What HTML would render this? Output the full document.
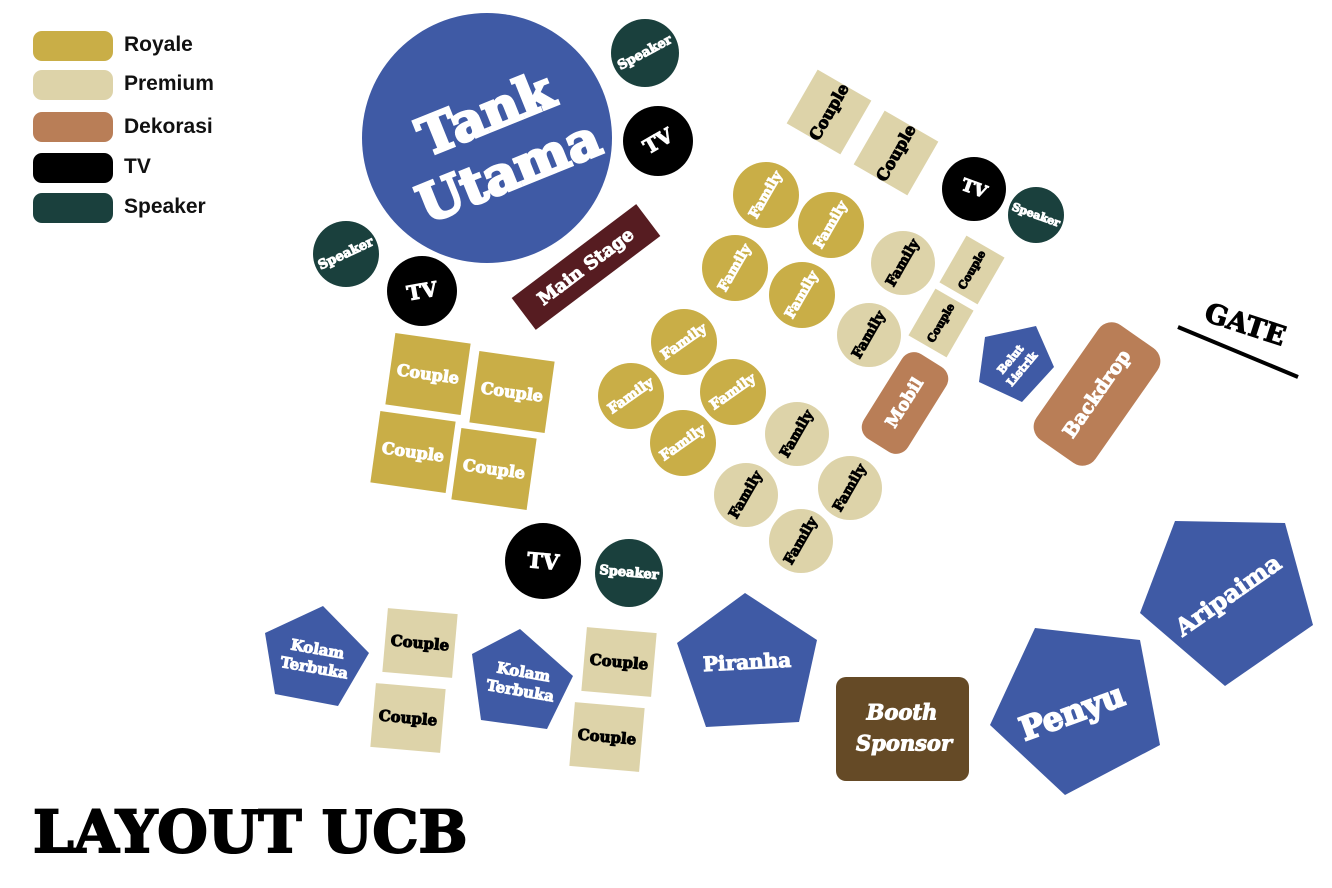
<!DOCTYPE html>
<html><head><meta charset="utf-8"><style>
html,body{margin:0;padding:0;background:#fff;width:1332px;height:888px;overflow:hidden}
svg{display:block}
.s{font-family:"DejaVu Serif","Liberation Serif",serif;font-weight:bold;text-anchor:middle;dominant-baseline:central;stroke-width:1px;paint-order:stroke}
.w{fill:#fff;stroke:#fff}.k{fill:#000;stroke:#000}
.l{font-family:"Liberation Sans",sans-serif;font-weight:bold;font-size:21px;fill:#111}
</style></head><body>
<svg width="1332" height="888" viewBox="0 0 1332 888">
<rect x="33" y="31" width="80" height="30" rx="9" fill="#c9ae47"/><text class="l" x="124" y="51">Royale</text>
<rect x="33" y="70" width="80" height="30" rx="9" fill="#ddd3a9"/><text class="l" x="124" y="90">Premium</text>
<rect x="33" y="112" width="80" height="30" rx="9" fill="#b97e57"/><text class="l" x="124" y="133">Dekorasi</text>
<rect x="33" y="153" width="80" height="30" rx="9" fill="#000"/><text class="l" x="124" y="173">TV</text>
<rect x="33" y="193" width="80" height="30" rx="9" fill="#1a403d"/><text class="l" x="124" y="213">Speaker</text>

<circle cx="487" cy="138" r="125" fill="#3f5aa5"/>
<g transform="translate(497,142) rotate(-22)"><text class="s w" y="-30" font-size="52" style="stroke-width:3px">Tank</text><text class="s w" y="32" font-size="52" style="stroke-width:3px">Utama</text></g>
<circle cx="645" cy="53" r="34" fill="#1a403d"/><text class="s w" font-size="13" transform="translate(645,53) rotate(-28)">Speaker</text>
<circle cx="658" cy="141" r="35" fill="#000"/><text class="s w" font-size="20" transform="translate(658,141) rotate(-30)">TV</text>
<circle cx="346" cy="254" r="33" fill="#1a403d"/><text class="s w" font-size="13" transform="translate(346,254) rotate(-25)">Speaker</text>
<circle cx="422" cy="291" r="35" fill="#000"/><text class="s w" font-size="20" transform="translate(422,291) rotate(-10)">TV</text>
<g transform="translate(586,267) rotate(-37)"><rect x="-78" y="-20" width="156" height="40" fill="#561c21"/><text class="s w" font-size="18">Main Stage</text></g>

<g transform="translate(829,112) rotate(30)"><rect x="-31" y="-31" width="62" height="62" fill="#ddd3a9"/><text class="s k" font-size="16" transform="rotate(-90)">Couple</text></g>
<g transform="translate(896,153) rotate(30)"><rect x="-31" y="-31" width="62" height="62" fill="#ddd3a9"/><text class="s k" font-size="16" transform="rotate(-90)">Couple</text></g>
<circle cx="974" cy="189" r="32" fill="#000"/><text class="s w" font-size="17" transform="translate(974,189) rotate(20)">TV</text>
<circle cx="1036" cy="215" r="28" fill="#1a403d"/><text class="s w" font-size="11" transform="translate(1036,215) rotate(20)">Speaker</text>

<g fill="#c9ae47">
<circle cx="766" cy="195" r="33"/><circle cx="831" cy="225" r="33"/><circle cx="735" cy="268" r="33"/><circle cx="802" cy="295" r="33"/>
<circle cx="684" cy="342" r="33"/><circle cx="631" cy="396" r="33"/><circle cx="733" cy="392" r="33"/><circle cx="683" cy="443" r="33"/>
</g>
<g class="s w" font-size="14">
<text transform="translate(766,195) rotate(-60)">Family</text><text transform="translate(831,225) rotate(-60)">Family</text>
<text transform="translate(735,268) rotate(-60)">Family</text><text transform="translate(802,295) rotate(-60)">Family</text>
<text transform="translate(684,342) rotate(-35)">Family</text><text transform="translate(631,396) rotate(-35)">Family</text>
<text transform="translate(733,392) rotate(-35)">Family</text><text transform="translate(683,443) rotate(-35)">Family</text>
</g>
<g fill="#ddd3a9">
<circle cx="903" cy="263" r="32"/><circle cx="869" cy="335" r="32"/><circle cx="797" cy="434" r="32"/>
<circle cx="746" cy="495" r="32"/><circle cx="850" cy="488" r="32"/><circle cx="801" cy="541" r="32"/>
</g>
<g class="s k" font-size="14">
<text transform="translate(903,263) rotate(-60)">Family</text><text transform="translate(869,335) rotate(-60)">Family</text>
<text transform="translate(797,434) rotate(-60)">Family</text><text transform="translate(746,495) rotate(-60)">Family</text>
<text transform="translate(850,488) rotate(-60)">Family</text><text transform="translate(801,541) rotate(-60)">Family</text>
</g>
<g transform="translate(972,270) rotate(30)"><rect x="-22" y="-27" width="44" height="54" fill="#ddd3a9"/><text class="s k" font-size="11" transform="rotate(-90)">Couple</text></g>
<g transform="translate(941,323) rotate(30)"><rect x="-22" y="-27" width="44" height="54" fill="#ddd3a9"/><text class="s k" font-size="11" transform="rotate(-90)">Couple</text></g>
<g transform="translate(905,403) rotate(32)"><rect x="-26" y="-50" width="52" height="100" rx="14" fill="#b97e57"/><text class="s w" font-size="17" transform="rotate(-90)">Mobil</text></g>
<polygon points="1036,326 1054,367 1022,402 979,382 985,337" fill="#3f5aa5"/>
<g transform="translate(1016,364) rotate(-50)" class="s w" font-size="11"><text y="-7">Belut</text><text y="8">Listrik</text></g>
<g transform="translate(1097,394) rotate(35)"><rect x="-36" y="-70" width="72" height="140" rx="16" fill="#b97e57"/><text class="s w" font-size="19" transform="rotate(-90)">Backdrop</text></g>
<text class="s k" font-size="27" transform="translate(1245,325) rotate(18)">GATE</text>
<line x1="1178" y1="327" x2="1298" y2="377" stroke="#000" stroke-width="4"/>

<g transform="translate(428,374) rotate(8)"><rect x="-38" y="-36" width="76" height="72" fill="#c9ae47"/><text class="s w" font-size="16">Couple</text></g>
<g transform="translate(512,392) rotate(8)"><rect x="-38" y="-36" width="76" height="72" fill="#c9ae47"/><text class="s w" font-size="16">Couple</text></g>
<g transform="translate(413,452) rotate(8)"><rect x="-38" y="-36" width="76" height="72" fill="#c9ae47"/><text class="s w" font-size="16">Couple</text></g>
<g transform="translate(494,469) rotate(8)"><rect x="-38" y="-36" width="76" height="72" fill="#c9ae47"/><text class="s w" font-size="16">Couple</text></g>

<circle cx="543" cy="561" r="38" fill="#000"/><text class="s w" font-size="21" transform="translate(543,561) rotate(5)">TV</text>
<circle cx="629" cy="573" r="34" fill="#1a403d"/><text class="s w" font-size="13" transform="translate(629,573) rotate(5)">Speaker</text>

<g fill="#3f5aa5">
<polygon points="323,606 369,653 338,706 275,694 265,633"/>
<polygon points="520,629 573,676 547,729 481,720 472,654"/>
<polygon points="745,593 817,640 799,722 706,727 677,643"/>
<polygon points="1035,628 1140,640 1160,745 1065,795 990,725"/>
<polygon points="1175,521 1285,523 1313,625 1225,686 1140,613"/>
</g>
<g transform="translate(316,658) rotate(10)" class="s w" font-size="15"><text y="-9">Kolam</text><text y="10">Terbuka</text></g>
<g transform="translate(522,681) rotate(10)" class="s w" font-size="15"><text y="-9">Kolam</text><text y="10">Terbuka</text></g>
<text class="s w" font-size="20" transform="translate(747,662) rotate(-3)">Piranha</text>
<text class="s w" font-size="32" transform="translate(1072,712) rotate(-20)" style="stroke-width:2px">Penyu</text>
<text class="s w" font-size="24" transform="translate(1228,595) rotate(-35)">Aripaima</text>
<g transform="translate(420,643) rotate(5)"><rect x="-35" y="-32" width="70" height="64" fill="#ddd3a9"/><text class="s k" font-size="15">Couple</text></g>
<g transform="translate(408,718) rotate(5)"><rect x="-35" y="-32" width="70" height="64" fill="#ddd3a9"/><text class="s k" font-size="15">Couple</text></g>
<g transform="translate(619,662) rotate(5)"><rect x="-35" y="-32" width="70" height="64" fill="#ddd3a9"/><text class="s k" font-size="15">Couple</text></g>
<g transform="translate(607,737) rotate(5)"><rect x="-35" y="-32" width="70" height="64" fill="#ddd3a9"/><text class="s k" font-size="15">Couple</text></g>
<rect x="836" y="677" width="133" height="104" rx="10" fill="#654a26"/>
<g class="s w" font-size="21" font-style="italic"><text x="902" y="712">Booth</text><text x="904" y="743">Sponsor</text></g>

<text x="33" y="852" font-family="DejaVu Serif,serif" font-weight="bold" font-size="58" fill="#000" stroke="#000" stroke-width="2">LAYOUT UCB</text>
</svg>
</body></html>
